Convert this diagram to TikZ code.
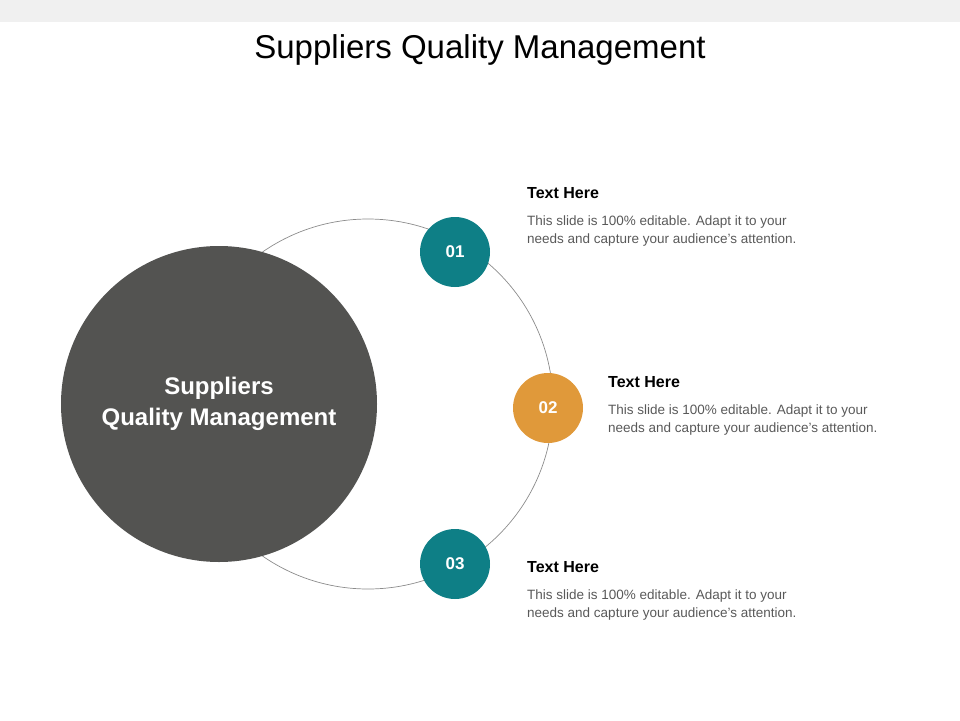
\documentclass[tikz,border=0pt]{standalone}
\usepackage{fontspec}
\setmainfont{Liberation Sans}
\definecolor{teal1}{HTML}{0E7F86}
\definecolor{orange1}{HTML}{E0993A}
\definecolor{dark1}{HTML}{535351}
\definecolor{txt}{HTML}{595959}
\begin{document}
\begin{tikzpicture}[x=1pt,y=-1pt,
  num/.style={circle,minimum size=70pt,inner sep=0,text=white,font=\fontsize{17}{20}\selectfont\bfseries},
  head/.style={anchor=west,font=\fontsize{16}{19}\selectfont\bfseries,text=black,inner sep=0},
  body/.style={anchor=north west,align=left,font=\fontsize{13.5}{18}\selectfont,text=txt,inner sep=0}]
\useasboundingbox (0,0) rectangle (960,720);
\fill[black!6] (0,0) rectangle (960,22);
\node (title) at (480,50) {\fontsize{33}{38}\selectfont Suppliers Quality Management};
\draw[black!45,line width=0.7pt] (368,404) circle (185);
\node[circle,fill=dark1,minimum size=316pt,inner sep=0,align=center,text=white,font=\fontsize{24}{31}\selectfont\bfseries] (big) at (219,404) {Suppliers\\Quality Management};
\node[num,fill=teal1] (n1) at (455,252) {01};
\node[num,fill=orange1] (n2) at (548,408) {02};
\node[num,fill=teal1] (n3) at (455,564) {03};
\node[head] (h1) at (527,193) {Text Here};
\node[body] (b1) at (527,216) {This slide is 100\% editable. Adapt it to your\\needs and capture your audience's attention.};
\node[head] (h2) at (608,382) {Text Here};
\node[body] (b2) at (608,405) {This slide is 100\% editable. Adapt it to your\\needs and capture your audience's attention.};
\node[head] (h3) at (527,567) {Text Here};
\node[body] (b3) at (527,590) {This slide is 100\% editable. Adapt it to your\\needs and capture your audience's attention.};
\end{tikzpicture}
\end{document}
